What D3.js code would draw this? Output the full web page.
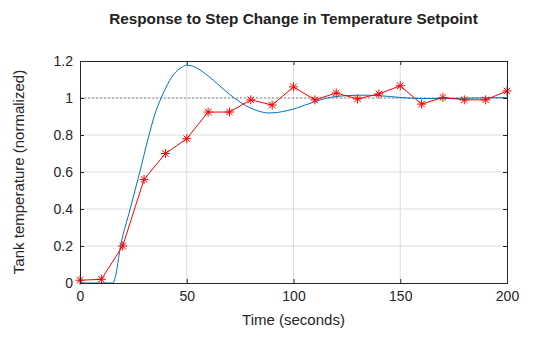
<!DOCTYPE html>
<html>
<head>
<meta charset="utf-8">
<script src="https://cdn.jsdelivr.net/npm/d3@7"></script>
<style>
  body { margin: 0; background: #fff; }
  svg { font-family: "Liberation Sans", Arial, sans-serif; }
</style>
</head>
<body>
<div id="chart"></div>
<script>
// measured setpoint response (red asterisks)
const sampleTimes = [0, 10, 20, 30, 40, 50, 60, 70, 80, 90, 100, 110, 120, 130, 140, 150, 160, 170, 180, 190, 200];
const sampleTemps = [0.015, 0.02, 0.2, 0.56, 0.70, 0.78, 0.924, 0.924, 0.99, 0.962, 1.06, 0.99, 1.027, 0.995, 1.022, 1.066, 0.967, 1.003, 0.99, 0.99, 1.038];

// model response (blue line)
const modelTimes = [0, 15.5, 16.5, 19, 23.5, 28, 32, 35, 38, 40, 42, 45, 48, 50, 52, 55, 60, 65, 70, 75, 80, 85, 88, 92, 95, 100, 105, 110, 115, 120, 125, 130, 135, 140, 145, 150, 155, 160, 170, 180, 190, 200];
const modelTemps = [0, 0, 0.03, 0.2, 0.4, 0.6, 0.785, 0.91, 1.0, 1.05, 1.095, 1.142, 1.168, 1.177, 1.175, 1.16, 1.12, 1.07, 1.02, 0.978, 0.945, 0.925, 0.919, 0.921, 0.927, 0.94, 0.96, 0.98, 0.998, 1.008, 1.013, 1.015, 1.015, 1.013, 1.008, 1.003, 0.999, 0.997, 0.997, 0.999, 1.001, 1.002];

const xTicks = [0, 50, 100, 150, 200];
const yTicks = [0, 0.2, 0.4, 0.6, 0.8, 1, 1.2];
const setpoint = 1;

const W = 560, H = 337;
const margin = {top: 61, right: 53, bottom: 54, left: 80};
const width = W - margin.left - margin.right;
const height = H - margin.top - margin.bottom;

const svg = d3.select("#chart").append("svg")
    .attr("width", W)
    .attr("height", H);

const g = svg.append("g")
    .attr("transform", "translate(" + margin.left + "," + margin.top + ")");

const x = d3.scaleLinear().domain([0, 200]).range([0, width]);
const y = d3.scaleLinear().domain([0, 1.2]).range([height, 0]);

// grid
g.append("g").selectAll("line")
    .data(xTicks.slice(1, -1))
    .join("line")
    .attr("x1", d => x(d)).attr("x2", d => x(d))
    .attr("y1", 0).attr("y2", height)
    .attr("stroke", "#dcdcdc").attr("stroke-width", 1);

g.append("g").selectAll("line")
    .data(yTicks.slice(1, -1))
    .join("line")
    .attr("x1", 0).attr("x2", width)
    .attr("y1", d => y(d)).attr("y2", d => y(d))
    .attr("stroke", "#dcdcdc").attr("stroke-width", 1);

// setpoint line
g.append("line")
    .attr("x1", 0).attr("x2", width)
    .attr("y1", y(setpoint)).attr("y2", y(setpoint))
    .attr("stroke", "#777").attr("stroke-width", 0.8)
    .attr("stroke-dasharray", "2,2");

// clip
g.append("clipPath").attr("id", "clip")
    .append("rect").attr("width", width).attr("height", height);

const modelData = modelTimes.map((t, i) => ({t: t, v: modelTemps[i]}));
const sampleData = sampleTimes.map((t, i) => ({t: t, v: sampleTemps[i]}));

const line = d3.line()
    .x(d => x(d.t))
    .y(d => y(d.v));

g.append("path")
    .datum(modelData)
    .attr("clip-path", "url(#clip)")
    .attr("d", line.curve(d3.curveMonotoneX))
    .attr("fill", "none")
    .attr("stroke", "#0072BD")
    .attr("stroke-width", 1);

g.append("path")
    .datum(sampleData)
    .attr("d", d3.line().x(d => x(d.t)).y(d => y(d.v)))
    .attr("fill", "none")
    .attr("stroke", "#ff0000")
    .attr("stroke-width", 1);

// asterisk markers
const s = 4.5;
const star = "M" + (-s) + ",0L" + s + ",0M0," + (-s) + "L0," + s +
    "M" + (-s * 0.72) + "," + (-s * 0.72) + "L" + (s * 0.72) + "," + (s * 0.72) +
    "M" + (-s * 0.72) + "," + (s * 0.72) + "L" + (s * 0.72) + "," + (-s * 0.72);

g.append("g").selectAll("path")
    .data(sampleData)
    .join("path")
    .attr("transform", d => "translate(" + x(d.t) + "," + y(d.v) + ")")
    .attr("d", star)
    .attr("fill", "none")
    .attr("stroke", "#ff0000")
    .attr("stroke-width", 1);

// axes (inside ticks on all four sides)
const tickLen = 4;
const xAxis = d3.axisBottom(x).tickValues(xTicks).tickSize(-tickLen).tickPadding(8).tickFormat(d3.format("d"));
const yAxis = d3.axisLeft(y).tickValues(yTicks).tickSize(-tickLen).tickPadding(7).tickFormat(d => d3.format("~g")(d));

const xg = g.append("g").attr("transform", "translate(0," + height + ")").call(xAxis);
const yg = g.append("g").call(yAxis);
const xt = g.append("g").call(d3.axisTop(x).tickValues(xTicks).tickSize(-tickLen).tickFormat(""));
const yr = g.append("g").attr("transform", "translate(" + width + ",0)").call(d3.axisRight(y).tickValues(yTicks).tickSize(-tickLen).tickFormat(""));

[xg, yg, xt, yr].forEach(a => {
    a.select(".domain").attr("stroke", "#262626").attr("stroke-width", 1);
    a.selectAll(".tick line").attr("stroke", "#262626");
    a.selectAll(".tick text").attr("fill", "#262626").style("font-size", "14px");
});

// titles
svg.append("text")
    .attr("x", margin.left + width / 2)
    .attr("y", 24)
    .attr("text-anchor", "middle")
    .style("font-size", "15.3px")
    .style("font-weight", "bold")
    .attr("fill", "#222")
    .text("Response to Step Change in Temperature Setpoint");

svg.append("text")
    .attr("x", margin.left + width / 2)
    .attr("y", 325)
    .attr("text-anchor", "middle")
    .style("font-size", "15px")
    .attr("fill", "#262626")
    .text("Time (seconds)");

svg.append("text")
    .attr("transform", "translate(24," + (margin.top + height / 2) + ") rotate(-90)")
    .attr("text-anchor", "middle")
    .style("font-size", "15px")
    .attr("fill", "#262626")
    .text("Tank temperature (normalized)");
</script>
</body>
</html>
